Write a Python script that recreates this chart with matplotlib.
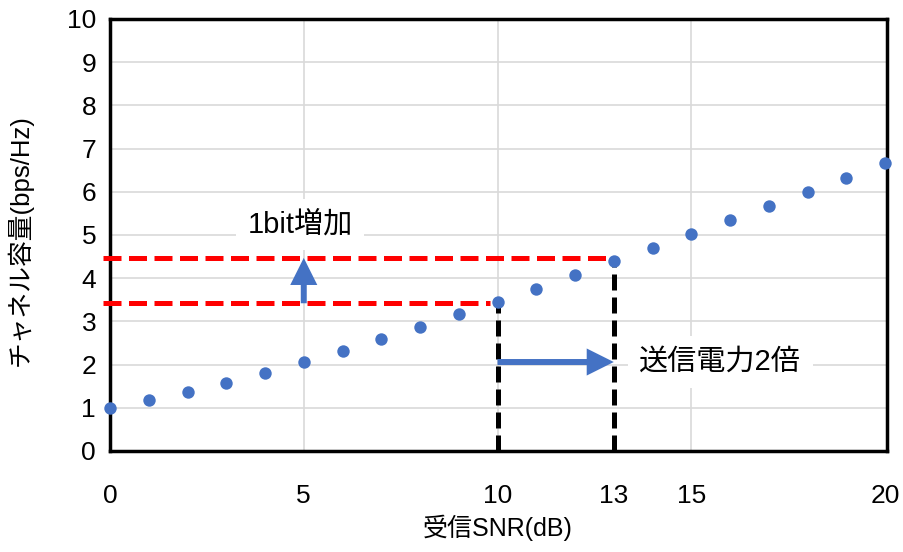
import matplotlib
matplotlib.use("Agg")
import matplotlib.pyplot as plt

snr_db = [0, 1, 2, 3, 4, 5, 6, 7, 8, 9, 10, 11, 12, 13, 14, 15, 16, 17, 18, 19, 20]
capacity = [1.00, 1.18, 1.37, 1.58, 1.81, 2.06, 2.32, 2.59, 2.87, 3.16, 3.46,
            3.76, 4.07, 4.39, 4.71, 5.03, 5.35, 5.68, 6.00, 6.33, 6.66]
x_ticks = [0, 5, 10, 13, 15, 20]
y_ticks = [0, 1, 2, 3, 4, 5, 6, 7, 8, 9, 10]
level_low = 3.42
level_high = 4.47
arrow_y = 2.06

fam = ['Liberation Sans', 'Noto Sans CJK JP']
plt.rcParams['font.family'] = fam

fig = plt.figure(figsize=(9.04, 5.52), dpi=100)
ax = fig.add_axes([110/904, 1-451/552, (887-110)/904, (451-19)/552])
ax.set_xlim(0, 20.05)
ax.set_ylim(0, 10)

# gridlines
for y in y_ticks[1:]:
    ax.axhline(y, color='#d9d9d9', lw=1.2, zorder=0)
for x in [5, 10, 15]:
    ax.axvline(x, color='#d9d9d9', lw=1.2, zorder=0)

for s in ax.spines.values():
    s.set_linewidth(2.5)
    s.set_color('black')

ax.set_xticks(x_ticks)
ax.set_yticks(y_ticks)
ax.tick_params(length=0, labelsize=19, colors='black')
ax.tick_params(axis='x', pad=24)
ax.tick_params(axis='y', pad=10)

# red dashed lines
ax.plot([-0.18, 12.85], [level_high, level_high], color='#ff0000', lw=3.6,
        dashes=(3.6, 1.5), clip_on=False, zorder=3)
ax.plot([-0.18, 9.8], [level_low, level_low], color='#ff0000', lw=3.6,
        dashes=(3.6, 1.5), clip_on=False, zorder=3)
# black dashed verticals
ax.plot([10, 10], [0, capacity[10]], color='black', lw=3.6, dashes=(3.2, 1.4), zorder=3)
ax.plot([13, 13], [0, capacity[13]], color='black', lw=3.6, dashes=(3.2, 1.4), zorder=3)

# arrows
astyle = 'simple,head_length=1.5,head_width=1.5,tail_width=0.33'
ax.annotate('', xy=(5, level_high), xytext=(5, level_low),
            arrowprops=dict(arrowstyle=astyle, color='#4472C4', lw=0, mutation_scale=13,
                            shrinkA=0, shrinkB=0), zorder=4)
ax.annotate('', xy=(13, arrow_y), xytext=(10, arrow_y),
            arrowprops=dict(arrowstyle=astyle, color='#4472C4', lw=0, mutation_scale=13,
                            shrinkA=0, shrinkB=0), zorder=4)

ax.scatter(snr_db, capacity, s=80, color='#4472C4', zorder=5, clip_on=False, linewidths=0)

ax.text(4.9, 5.25, '1bit増加', fontsize=21, ha='center', va='center', family=fam,
        bbox=dict(facecolor='white', edgecolor='none', boxstyle='square,pad=0.4'), zorder=2)
ax.text(15.75, 2.06, '送信電力2倍', fontsize=21, ha='center', va='center', family=fam,
        bbox=dict(facecolor='white', edgecolor='none', boxstyle='square,pad=0.4'), zorder=2)

fig.text(498/904, 1-528/552, '受信SNR(dB)', fontsize=18, ha='center', va='center', family=fam)
fig.text(20/904, 1-240/552, 'チャネル容量(bps/Hz)', fontsize=18.5, ha='center', va='center',
         rotation=90, family=fam)

fig.savefig('out.png', dpi=100)
